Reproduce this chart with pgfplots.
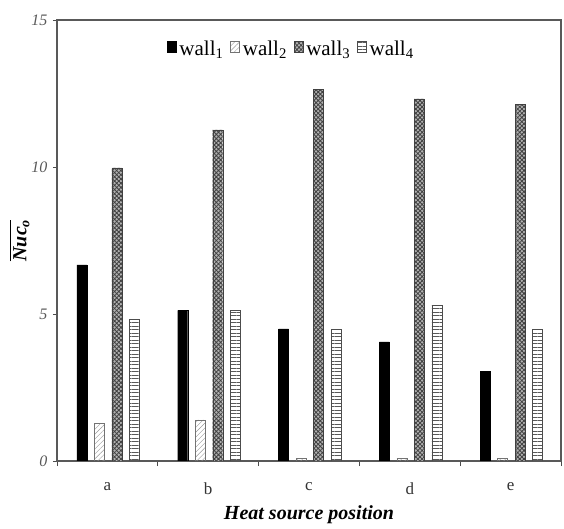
\documentclass[border=0pt]{standalone}
\usepackage{fontspec}
\setmainfont{Liberation Serif}
\usepackage{amsmath}
\usepackage{pgfplots}
\pgfplotsset{compat=1.18}
\usetikzlibrary{patterns.meta}

\begin{document}
\begin{tikzpicture}
\begin{axis}[
  scale only axis,
  width=504pt, height=441pt,
  ybar=7.5pt, bar width=10pt,
  xmin=-0.5, xmax=4.5,
  ymin=0, ymax=15,
  xtick={0,1,2,3,4},
  xticklabels={a,b,c,d,e},
  minor xtick={-0.5,0.5,1.5,2.5,3.5,4.5},
  ytick={0,5,10,15},
  major x tick style={draw=none},
  tick align=outside, tick pos=left,
  major tick length=4pt, minor tick length=5pt,
  axis line style={draw=black!65, line width=1.1pt},
  every tick/.style={black!70, line width=0.8pt},
  /pgf/number format/assume math mode=true,
  yticklabel style={font=\fontsize{16}{16}\selectfont\itshape, text=black!65, xshift=-2pt},
  xticklabel style={font=\fontsize{17}{17}\selectfont, text=black!80, yshift=-14pt},
  xlabel={\fontsize{20}{20}\selectfont\bfseries\itshape Heat source position},
  xlabel style={yshift=-4pt},
  ylabel={\fontsize{20}{20}\selectfont$\overline{\text{\bfseries\itshape Nuc}_{\text{\bfseries\itshape o}}}$},
  ylabel style={yshift=-5pt},
  legend style={at={(0.465,0.963)}, anchor=north, draw=none, fill=none,
    legend columns=4, font=\fontsize{21}{21}\selectfont,
    /tikz/every odd column/.append style={column sep=1pt},
    /tikz/every even column/.append style={column sep=5pt}},
  legend image code/.code={\draw[#1] (0pt,-4pt) rectangle (9pt,7pt);},
]
% wall 1: solid black
\addplot[fill=black, draw=black, bar shift=-25.5pt]
  coordinates {(0,6.67) (1,5.12) (2,4.49) (3,4.05) (4,3.04)};
% wall 2: light dotted hatch
\addplot[draw=black!55, pattern={Lines[angle=45,distance=3.5pt,line width=0.4pt]},
  pattern color=black!40, bar shift=-8pt]
  coordinates {(0,1.29) (1,1.40) (2,0.08) (3,0.08) (4,0.08)};
% wall 3: dense cross-hatch
\addplot[draw=black!75, fill=black!30,
  postaction={pattern={Hatch[angle=45,distance=3pt,line width=0.8pt]}, pattern color=black!75},
  bar shift=9.5pt]
  coordinates {(0,9.97) (1,11.26) (2,12.65) (3,12.32) (4,12.12)};
% wall 4: horizontal lines
\addplot[draw=black!70, pattern={Lines[angle=0,distance=3.5pt,line width=0.6pt]},
  pattern color=black!65, bar shift=27pt]
  coordinates {(0,4.84) (1,5.14) (2,4.49) (3,5.31) (4,4.49)};
\legend{wall\textsubscript{1},wall\textsubscript{2},wall\textsubscript{3},wall\textsubscript{4}}
\end{axis}
% page margins around the plot area
\useasboundingbox ([shift={(-57pt,-68pt)}]current axis.south west)
  rectangle ([shift={(3pt,20pt)}]current axis.north east);
\end{tikzpicture}
\end{document}
